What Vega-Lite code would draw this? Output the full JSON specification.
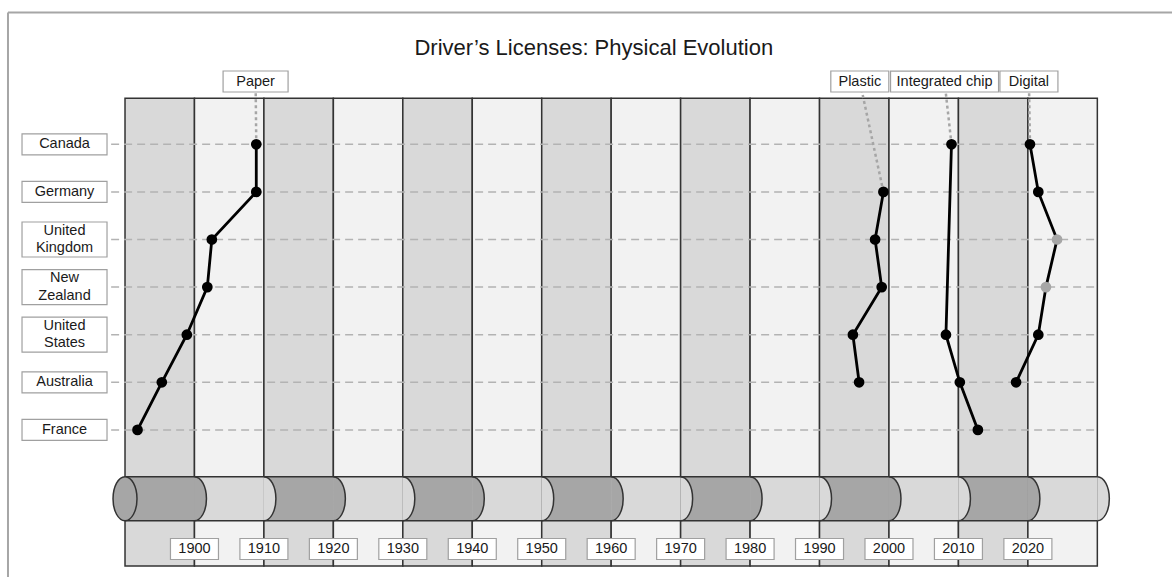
{
"$schema": "https://vega.github.io/schema/vega-lite/v6.json",
"width": 1172, "height": 577, "padding": 0, "autosize": {"type": "none"},
"background": "white",
"config": {"view": {"stroke": null}, "font": "Liberation Sans"},
"datasets": {
"one": [{"k": 1}],
"adoption": [
{"series": "Paper", "country": "Canada", "row": 1, "year": 1908.9, "status": "full"},
{"series": "Paper", "country": "Germany", "row": 2, "year": 1908.9, "status": "full"},
{"series": "Paper", "country": "United Kingdom", "row": 3, "year": 1902.5, "status": "full"},
{"series": "Paper", "country": "New Zealand", "row": 4, "year": 1901.85, "status": "full"},
{"series": "Paper", "country": "United States", "row": 5, "year": 1898.9, "status": "full"},
{"series": "Paper", "country": "Australia", "row": 6, "year": 1895.3, "status": "full"},
{"series": "Paper", "country": "France", "row": 7, "year": 1891.8, "status": "full"},
{"series": "Plastic", "country": "Germany", "row": 2, "year": 1999.2, "status": "full"},
{"series": "Plastic", "country": "United Kingdom", "row": 3, "year": 1998.0, "status": "full"},
{"series": "Plastic", "country": "New Zealand", "row": 4, "year": 1998.95, "status": "full"},
{"series": "Plastic", "country": "United States", "row": 5, "year": 1994.8, "status": "full"},
{"series": "Plastic", "country": "Australia", "row": 6, "year": 1995.7, "status": "full"},
{"series": "Integrated chip", "country": "Canada", "row": 1, "year": 2009.0, "status": "full"},
{"series": "Integrated chip", "country": "United States", "row": 5, "year": 2008.2, "status": "full"},
{"series": "Integrated chip", "country": "Australia", "row": 6, "year": 2010.2, "status": "full"},
{"series": "Integrated chip", "country": "France", "row": 7, "year": 2012.8, "status": "full"},
{"series": "Digital", "country": "Canada", "row": 1, "year": 2020.3, "status": "full"},
{"series": "Digital", "country": "Germany", "row": 2, "year": 2021.5, "status": "full"},
{"series": "Digital", "country": "United Kingdom", "row": 3, "year": 2024.2, "status": "partial"},
{"series": "Digital", "country": "New Zealand", "row": 4, "year": 2022.6, "status": "partial"},
{"series": "Digital", "country": "United States", "row": 5, "year": 2021.5, "status": "full"},
{"series": "Digital", "country": "Australia", "row": 6, "year": 2018.3, "status": "full"}
],
"decades": [
{"start": 1890, "end": 1900, "shade": "dark"},
{"start": 1900, "end": 1910, "shade": "light"},
{"start": 1910, "end": 1920, "shade": "dark"},
{"start": 1920, "end": 1930, "shade": "light"},
{"start": 1930, "end": 1940, "shade": "dark"},
{"start": 1940, "end": 1950, "shade": "light"},
{"start": 1950, "end": 1960, "shade": "dark"},
{"start": 1960, "end": 1970, "shade": "light"},
{"start": 1970, "end": 1980, "shade": "dark"},
{"start": 1980, "end": 1990, "shade": "light"},
{"start": 1990, "end": 2000, "shade": "dark"},
{"start": 2000, "end": 2010, "shade": "light"},
{"start": 2010, "end": 2020, "shade": "dark"},
{"start": 2020, "end": 2030, "shade": "light"}
],
"countries": [
{"country": "Canada", "row": 1, "label": "Canada"},
{"country": "Germany", "row": 2, "label": "Germany"},
{"country": "United Kingdom", "row": 3, "label": "United\nKingdom"},
{"country": "New Zealand", "row": 4, "label": "New\nZealand"},
{"country": "United States", "row": 5, "label": "United\nStates"},
{"country": "Australia", "row": 6, "label": "Australia"},
{"country": "France", "row": 7, "label": "France"}
],
"phases": [
{"series": "Paper", "lx": 1908.8, "px": 1908.9, "prow": 1},
{"series": "Plastic", "lx": 1995.8, "px": 1999.2, "prow": 2},
{"series": "Integrated chip", "lx": 2008.0, "px": 2009.0, "prow": 1},
{"series": "Digital", "lx": 2020.15, "px": 2020.3, "prow": 1}
],
"years": [{"year": 1900}, {"year": 1910}, {"year": 1920}, {"year": 1930}, {"year": 1940}, {"year": 1950}, {"year": 1960}, {"year": 1970}, {"year": 1980}, {"year": 1990}, {"year": 2000}, {"year": 2010}, {"year": 2020}]
},
"layer": [
{"data": {"name": "one"}, "mark": {"type": "rule", "stroke": "#a6a6a6", "strokeWidth": 2},
 "encoding": {"x": {"datum": 1873.15, "type": "quantitative", "scale": {"domain": [1872, 2040.75], "nice": false, "zero": false}, "axis": null}, "x2": {"datum": 2045},
  "y": {"datum": -1.769, "type": "quantitative", "scale": {"domain": [-2.0315, 10.0903], "reverse": true, "nice": false, "zero": false}, "axis": null}}},
{"data": {"name": "one"}, "mark": {"type": "rule", "stroke": "#a6a6a6", "strokeWidth": 2},
 "encoding": {"x": {"datum": 1873.15, "type": "quantitative", "scale": {"domain": [1872, 2040.75], "nice": false, "zero": false}, "axis": null},
  "y": {"datum": -1.769, "type": "quantitative", "scale": {"domain": [-2.0315, 10.0903], "reverse": true, "nice": false, "zero": false}, "axis": null}, "y2": {"datum": 10.5}}},
{"data": {"name": "decades"}, "mark": {"type": "rect", "stroke": "#333333", "strokeWidth": 1.5},
 "encoding": {"x": {"field": "start", "type": "quantitative", "scale": {"domain": [1872, 2040.75], "nice": false, "zero": false}, "axis": null}, "x2": {"field": "end"},
  "y": {"datum": 0.0336, "type": "quantitative", "scale": {"domain": [-2.0315, 10.0903], "reverse": true, "nice": false, "zero": false}, "axis": null}, "y2": {"datum": 9.859},
  "fill": {"condition": {"test": "datum.shade === 'dark'", "value": "#d9d9d9"}, "value": "#f2f2f2"}}},
{"data": {"name": "countries"}, "mark": {"type": "rule", "stroke": "#b3b3b3", "strokeWidth": 1.5, "strokeDash": [8, 5]},
 "encoding": {"x": {"datum": 1888.0, "type": "quantitative", "scale": {"domain": [1872, 2040.75], "nice": false, "zero": false}, "axis": null}, "x2": {"datum": 2030},
  "y": {"field": "row", "type": "quantitative", "scale": {"domain": [-2.0315, 10.0903], "reverse": true, "nice": false, "zero": false}, "axis": null}}},
{"data": {"name": "decades"}, "mark": {"type": "rect", "strokeWidth": 0},
 "encoding": {"x": {"field": "start", "type": "quantitative", "scale": {"domain": [1872, 2040.75], "nice": false, "zero": false}, "axis": null}, "x2": {"field": "end"},
  "y": {"datum": 7.983, "type": "quantitative", "scale": {"domain": [-2.0315, 10.0903], "reverse": true, "nice": false, "zero": false}, "axis": null}, "y2": {"datum": 8.908},
  "fill": {"condition": {"test": "datum.shade === 'dark'", "value": "#a6a6a6"}, "value": "#d9d9d9"}}},
{"data": {"name": "decades"}, "mark": {"type": "point", "shape": "M0,-1A0.545,1,0,0,1,0,1", "size": 1936, "filled": true, "opacity": 1, "stroke": "#333333", "strokeWidth": 1.5},
 "encoding": {"x": {"field": "end", "type": "quantitative", "scale": {"domain": [1872, 2040.75], "nice": false, "zero": false}, "axis": null},
  "y": {"datum": 8.4455, "type": "quantitative", "scale": {"domain": [-2.0315, 10.0903], "reverse": true, "nice": false, "zero": false}, "axis": null},
  "fill": {"condition": {"test": "datum.shade === 'dark'", "value": "#a6a6a6"}, "value": "#d9d9d9"}}},
{"data": {"name": "one"}, "mark": {"type": "rule", "stroke": "#333333", "strokeWidth": 1.5},
 "encoding": {"x": {"datum": 1890, "type": "quantitative", "scale": {"domain": [1872, 2040.75], "nice": false, "zero": false}, "axis": null}, "x2": {"datum": 2030},
  "y": {"datum": 7.983, "type": "quantitative", "scale": {"domain": [-2.0315, 10.0903], "reverse": true, "nice": false, "zero": false}, "axis": null}}},
{"data": {"name": "one"}, "mark": {"type": "rule", "stroke": "#333333", "strokeWidth": 1.5},
 "encoding": {"x": {"datum": 1890, "type": "quantitative", "scale": {"domain": [1872, 2040.75], "nice": false, "zero": false}, "axis": null}, "x2": {"datum": 2030},
  "y": {"datum": 8.908, "type": "quantitative", "scale": {"domain": [-2.0315, 10.0903], "reverse": true, "nice": false, "zero": false}, "axis": null}}},
{"data": {"name": "one"}, "mark": {"type": "point", "shape": "M0,-1A0.545,1,0,1,1,0,1A0.545,1,0,1,1,0,-1Z", "size": 1936, "filled": true, "opacity": 1, "fill": "#a6a6a6", "stroke": "#333333", "strokeWidth": 1.5},
 "encoding": {"x": {"datum": 1890, "type": "quantitative", "scale": {"domain": [1872, 2040.75], "nice": false, "zero": false}, "axis": null},
  "y": {"datum": 8.4455, "type": "quantitative", "scale": {"domain": [-2.0315, 10.0903], "reverse": true, "nice": false, "zero": false}, "axis": null}}},
{"data": {"name": "phases"}, "mark": {"type": "rule", "stroke": "#a6a6a6", "strokeWidth": 2.5, "strokeDash": [3, 3]},
 "encoding": {"x": {"field": "px", "type": "quantitative", "scale": {"domain": [1872, 2040.75], "nice": false, "zero": false}, "axis": null}, "x2": {"field": "lx"},
  "y": {"field": "prow", "type": "quantitative", "scale": {"domain": [-2.0315, 10.0903], "reverse": true, "nice": false, "zero": false}, "axis": null}, "y2": {"datum": -0.319}}},
{"data": {"name": "adoption"}, "mark": {"type": "line", "color": "black", "strokeWidth": 2.8},
 "encoding": {"x": {"field": "year", "type": "quantitative", "scale": {"domain": [1872, 2040.75], "nice": false, "zero": false}, "axis": null},
  "y": {"field": "row", "type": "quantitative", "scale": {"domain": [-2.0315, 10.0903], "reverse": true, "nice": false, "zero": false}, "axis": null},
  "detail": {"field": "series", "type": "nominal"}, "order": {"field": "row", "type": "quantitative"}}},
{"data": {"name": "adoption"}, "mark": {"type": "circle", "size": 115, "opacity": 1},
 "encoding": {"x": {"field": "year", "type": "quantitative", "scale": {"domain": [1872, 2040.75], "nice": false, "zero": false}, "axis": null},
  "y": {"field": "row", "type": "quantitative", "scale": {"domain": [-2.0315, 10.0903], "reverse": true, "nice": false, "zero": false}, "axis": null},
  "fill": {"condition": {"test": "datum.status === 'partial'", "value": "#a6a6a6"}, "value": "black"}}},
{"data": {"name": "countries"}, "transform": [{"filter": "indexof(datum.label, '\\n') < 0"}],
 "mark": {"type": "point", "shape": "M-1,-0.247H1V0.247H-1Z", "size": 7225, "filled": true, "opacity": 1, "fill": "white", "stroke": "#a0a0a0", "strokeWidth": 1.2},
 "encoding": {"x": {"datum": 1881.29, "type": "quantitative", "scale": {"domain": [1872, 2040.75], "nice": false, "zero": false}, "axis": null},
  "y": {"field": "row", "type": "quantitative", "scale": {"domain": [-2.0315, 10.0903], "reverse": true, "nice": false, "zero": false}, "axis": null}}},
{"data": {"name": "countries"}, "transform": [{"filter": "indexof(datum.label, '\\n') >= 0"}],
 "mark": {"type": "point", "shape": "M-1,-0.412H1V0.412H-1Z", "size": 7225, "filled": true, "opacity": 1, "fill": "white", "stroke": "#a0a0a0", "strokeWidth": 1.2},
 "encoding": {"x": {"datum": 1881.29, "type": "quantitative", "scale": {"domain": [1872, 2040.75], "nice": false, "zero": false}, "axis": null},
  "y": {"field": "row", "type": "quantitative", "scale": {"domain": [-2.0315, 10.0903], "reverse": true, "nice": false, "zero": false}, "axis": null}}},
{"data": {"name": "countries"}, "transform": [{"filter": "indexof(datum.label, '\\n') < 0"}],
 "mark": {"type": "text", "fontSize": 14.5, "fill": "#1a1a1a", "align": "center", "baseline": "middle"},
 "encoding": {"x": {"datum": 1881.29, "type": "quantitative", "scale": {"domain": [1872, 2040.75], "nice": false, "zero": false}, "axis": null},
  "y": {"field": "row", "type": "quantitative", "scale": {"domain": [-2.0315, 10.0903], "reverse": true, "nice": false, "zero": false}, "axis": null},
  "text": {"field": "label", "type": "nominal"}}},
{"data": {"name": "countries"}, "transform": [{"filter": "indexof(datum.label, '\\n') >= 0"}],
 "mark": {"type": "text", "fontSize": 14.5, "fill": "#1a1a1a", "align": "center", "baseline": "middle", "lineBreak": "\n", "lineHeight": 17.5, "dy": -8.75},
 "encoding": {"x": {"datum": 1881.29, "type": "quantitative", "scale": {"domain": [1872, 2040.75], "nice": false, "zero": false}, "axis": null},
  "y": {"field": "row", "type": "quantitative", "scale": {"domain": [-2.0315, 10.0903], "reverse": true, "nice": false, "zero": false}, "axis": null},
  "text": {"field": "label", "type": "nominal"}}},
{"data": {"name": "phases"}, "transform": [{"filter": "datum.series === 'Paper'"}],
 "mark": {"type": "point", "shape": "M-1,-0.323H1V0.323H-1Z", "size": 4225, "filled": true, "opacity": 1, "fill": "white", "stroke": "#a0a0a0", "strokeWidth": 1.2},
 "encoding": {"x": {"field": "lx", "type": "quantitative", "scale": {"domain": [1872, 2040.75], "nice": false, "zero": false}, "axis": null},
  "y": {"datum": -0.319, "type": "quantitative", "scale": {"domain": [-2.0315, 10.0903], "reverse": true, "nice": false, "zero": false}, "axis": null}}},
{"data": {"name": "phases"}, "transform": [{"filter": "datum.series === 'Plastic' || datum.series === 'Digital'"}],
 "mark": {"type": "point", "shape": "M-1,-0.362H1V0.362H-1Z", "size": 3364, "filled": true, "opacity": 1, "fill": "white", "stroke": "#a0a0a0", "strokeWidth": 1.2},
 "encoding": {"x": {"field": "lx", "type": "quantitative", "scale": {"domain": [1872, 2040.75], "nice": false, "zero": false}, "axis": null},
  "y": {"datum": -0.319, "type": "quantitative", "scale": {"domain": [-2.0315, 10.0903], "reverse": true, "nice": false, "zero": false}, "axis": null}}},
{"data": {"name": "phases"}, "transform": [{"filter": "datum.series === 'Integrated chip'"}],
 "mark": {"type": "point", "shape": "M-1,-0.194H1V0.194H-1Z", "size": 11664, "filled": true, "opacity": 1, "fill": "white", "stroke": "#a0a0a0", "strokeWidth": 1.2},
 "encoding": {"x": {"field": "lx", "type": "quantitative", "scale": {"domain": [1872, 2040.75], "nice": false, "zero": false}, "axis": null},
  "y": {"datum": -0.319, "type": "quantitative", "scale": {"domain": [-2.0315, 10.0903], "reverse": true, "nice": false, "zero": false}, "axis": null}}},
{"data": {"name": "phases"}, "mark": {"type": "text", "fontSize": 14.5, "fill": "#1a1a1a", "align": "center", "baseline": "middle"},
 "encoding": {"x": {"field": "lx", "type": "quantitative", "scale": {"domain": [1872, 2040.75], "nice": false, "zero": false}, "axis": null},
  "y": {"datum": -0.319, "type": "quantitative", "scale": {"domain": [-2.0315, 10.0903], "reverse": true, "nice": false, "zero": false}, "axis": null},
  "text": {"field": "series", "type": "nominal"}}},
{"data": {"name": "years"},
 "mark": {"type": "point", "shape": "M-1,-0.4375H1V0.4375H-1Z", "size": 2304, "filled": true, "opacity": 1, "fill": "white", "stroke": "#a0a0a0", "strokeWidth": 1.2},
 "encoding": {"x": {"field": "year", "type": "quantitative", "scale": {"domain": [1872, 2040.75], "nice": false, "zero": false}, "axis": null},
  "y": {"datum": 9.502, "type": "quantitative", "scale": {"domain": [-2.0315, 10.0903], "reverse": true, "nice": false, "zero": false}, "axis": null}}},
{"data": {"name": "years"}, "mark": {"type": "text", "fontSize": 14.5, "fill": "#1a1a1a", "align": "center", "baseline": "middle"},
 "encoding": {"x": {"field": "year", "type": "quantitative", "scale": {"domain": [1872, 2040.75], "nice": false, "zero": false}, "axis": null},
  "y": {"datum": 9.502, "type": "quantitative", "scale": {"domain": [-2.0315, 10.0903], "reverse": true, "nice": false, "zero": false}, "axis": null},
  "text": {"field": "year", "type": "nominal"}}},
{"data": {"name": "one"}, "mark": {"type": "text", "fontSize": 22, "fill": "#1a1a1a", "align": "center", "baseline": "alphabetic", "text": "Driver’s Licenses: Physical Evolution"},
 "encoding": {"x": {"datum": 1957.5, "type": "quantitative", "scale": {"domain": [1872, 2040.75], "nice": false, "zero": false}, "axis": null},
  "y": {"datum": -0.876, "type": "quantitative", "scale": {"domain": [-2.0315, 10.0903], "reverse": true, "nice": false, "zero": false}, "axis": null}}}
]
}
